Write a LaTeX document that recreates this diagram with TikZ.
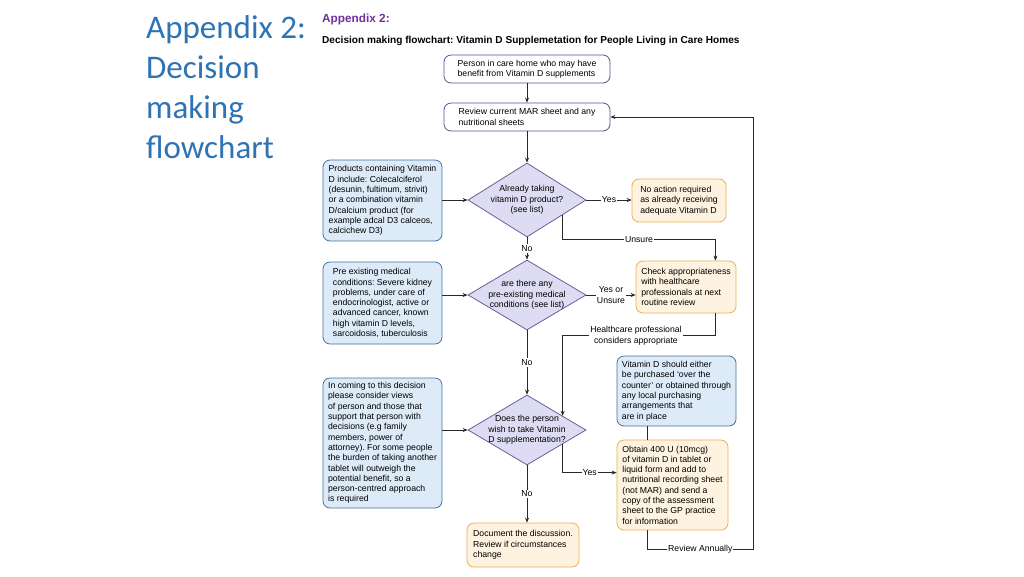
\documentclass[tikz,border=0pt]{standalone}
\usepackage{fontspec}
\setmainfont{Liberation Sans}
\newfontfamily\titlefont{Carlito}
\usetikzlibrary{shapes.geometric,arrows.meta,calc}
\definecolor{titleblue}{RGB}{46,116,181}
\definecolor{apppurple}{RGB}{112,48,160}
\definecolor{startborder}{RGB}{95,80,155}
\definecolor{diafill}{RGB}{222,220,242}
\definecolor{diaborder}{RGB}{105,95,155}
\definecolor{bluefill}{RGB}{221,235,248}
\definecolor{blueborder}{RGB}{70,115,160}
\definecolor{orangefill}{RGB}{254,242,224}
\definecolor{orangeborder}{RGB}{240,175,80}
\definecolor{linecol}{RGB}{40,40,40}
\newcommand{\fs}{\fontsize{8.7}{10.3}\selectfont}
\frenchspacing
\begin{document}
\frenchspacing
\begin{tikzpicture}[x=1pt,y=-1pt,
 basebox/.style={rounded corners=7pt, line width=0.8pt, align=left, font=\fs, inner sep=3pt},
 pbox/.style={basebox, draw=startborder, fill=white},
 bbox/.style={basebox, draw=blueborder, fill=bluefill},
 obox/.style={basebox, draw=orangeborder, fill=orangefill},
 dia/.style={diamond, draw=diaborder, fill=diafill, line width=0.8pt, minimum width=118pt, inner sep=0pt},
 dtext/.style={font=\fs, align=center, inner sep=0pt},
 arr/.style={draw=linecol, line width=0.7pt, -{Stealth[length=5pt,width=4pt]}},
 conn/.style={draw=linecol, line width=0.7pt},
 lbl/.style={font=\fs, fill=white, inner sep=1pt, align=center}]
\useasboundingbox (0,0) rectangle (1024,576);
\fill[white] (0,0) rectangle (1024,576);

% titles
\node[anchor=north west, align=left, font=\titlefont\fontsize{33}{40}\selectfont, text=titleblue, inner sep=0pt] (title) at (146,15) {Appendix 2:\\Decision\\making\\flowchart};
\node[anchor=base west, font=\bfseries\fontsize{11.8}{14}\selectfont, text=apppurple, inner sep=0pt] (app) at (322,22) {Appendix 2:};
\node[anchor=base west, font=\bfseries\fontsize{10.1}{12}\selectfont, inner sep=0pt] (sub) at (322,43) {Decision making flowchart: Vitamin D Supplemetation for People Living in Care Homes};

% boxes
\node[pbox, minimum width=166pt, minimum height=28pt] (start) at (527,69) {Person in care home who may have\\benefit from Vitamin D supplements};
\node[pbox, minimum width=166pt, minimum height=28pt] (review) at (527,117) {Review current MAR sheet and any\\nutritional sheets};

\node[dia, minimum height=74pt] (d1) at (527,200) {};
\node[dtext] (d1t) at (d1) {Already taking\\vitamin D product?\\(see list)};
\node[bbox, minimum width=119pt, minimum height=81pt] (lb1) at (382.5,200.5) {Products containing Vitamin\\D include: Colecalciferol\\(desunin, fultimum, strivit)\\or a combination vitamin\\D/calcium product (for\\example adcal D3 calceos,\\calcichew D3)};
\node[obox, minimum width=94pt, minimum height=43pt] (noact) at (679,200.5) {No action required\\as already receiving\\adequate Vitamin D};

\node[dia, minimum height=70pt] (d2) at (527,295) {};
\node[dtext] (d2t) at (d2) {are there any\\pre-existing medical\\conditions (see list)};
\node[bbox, minimum width=119pt, minimum height=82pt] (lb2) at (382.5,303) {Pre existing medical\\conditions: Severe kidney\\problems, under care of\\endocrinologist, active or\\advanced cancer, known\\high vitamin D levels,\\sarcoidosis, tuberculosis};
\node[obox, minimum width=100pt, minimum height=52pt] (check) at (686,287) {Check appropriateness\\with healthcare\\professionals at next\\routine review};

\node[dia, minimum height=70pt] (d3) at (527,430) {};
\node[dtext] (d3t) at (d3) {Does the person\\wish to take Vitamin\\D supplementation?};
\node[bbox, minimum width=119pt, minimum height=130pt] (lb3) at (382.5,443) {In coming to this decision\\please consider views\\of person and those that\\support that person with\\decisions (e.g family\\members, power of\\attorney). For some people\\the burden of taking another\\tablet will outweigh the\\potential benefit, so a\\person-centred approach\\is required};
\node[bbox, minimum width=119pt, minimum height=70pt] (info) at (676.5,391) {Vitamin D should either\\be purchased `over the\\counter' or obtained through\\any local purchasing\\arrangements that\\are in place};
\node[obox, minimum width=111pt, minimum height=90pt] (obtain) at (672.5,485) {Obtain 400 U (10mcg)\\of vitamin D in tablet or\\liquid form and add to\\nutritional recording sheet\\(not MAR) and send a\\copy of the assessment\\sheet to the GP practice\\for information};
\node[obox, minimum width=112pt, minimum height=44pt] (doc) at (523,545) {Document the discussion.\\Review if circumstances\\change};

% connectors
\draw[arr] (start) -- (review);
\draw[arr] (review) -- (d1);
\draw[arr] (lb1.east |- d1.west) -- (d1.west);
\draw[arr] (d1.east) -- node[lbl]{Yes} (d1.east -| noact.west);
\coordinate (u1) at ($(d1.east)!0.4!(d1.south)$);
\draw[arr] (u1) |- node[lbl,pos=0.75]{Unsure} ($(check.north east)+(-21,-21)$) -- ($(check.north east)+(-21,0)$);
\draw[arr] (d1) -- node[lbl]{No} (d2);
\draw[arr] (lb2.east |- d2.west) -- (d2.west);
\draw[arr] (d2.east) -- node[lbl]{Yes or\\Unsure} (d2.east -| check.west);
\coordinate (d3ne) at ($(d3.north)!0.6!(d3.east)$);
\draw[arr] ($(check.south east)+(-21,0)$) |- node[lbl,pos=0.76]{Healthcare professional\\considers appropriate} ($(d3ne)+(0,-80)$) -- (d3ne);
\draw[arr] (lb3.east |- d3.west) -- (d3.west);
\draw[arr] (d2) -- node[lbl]{No} (d3);
\coordinate (infx) at (647,0);
\draw[conn] (info.south -| infx) -- (obtain.north -| infx);
\coordinate (d3se) at ($(d3.east)!0.4!(d3.south)$);
\draw[arr] (d3se) |- node[lbl,pos=0.75]{Yes} ($(obtain.north west)+(0,33)$);
\draw[arr] (d3) -- node[lbl]{No} (d3.south |- doc.north);
\coordinate (ra) at (753,549);
\draw[arr] ($(obtain.south west)+(31,0)$) |- node[lbl,pos=0.75]{Review Annually} (ra) |- (review.east);
\end{tikzpicture}
\end{document}
